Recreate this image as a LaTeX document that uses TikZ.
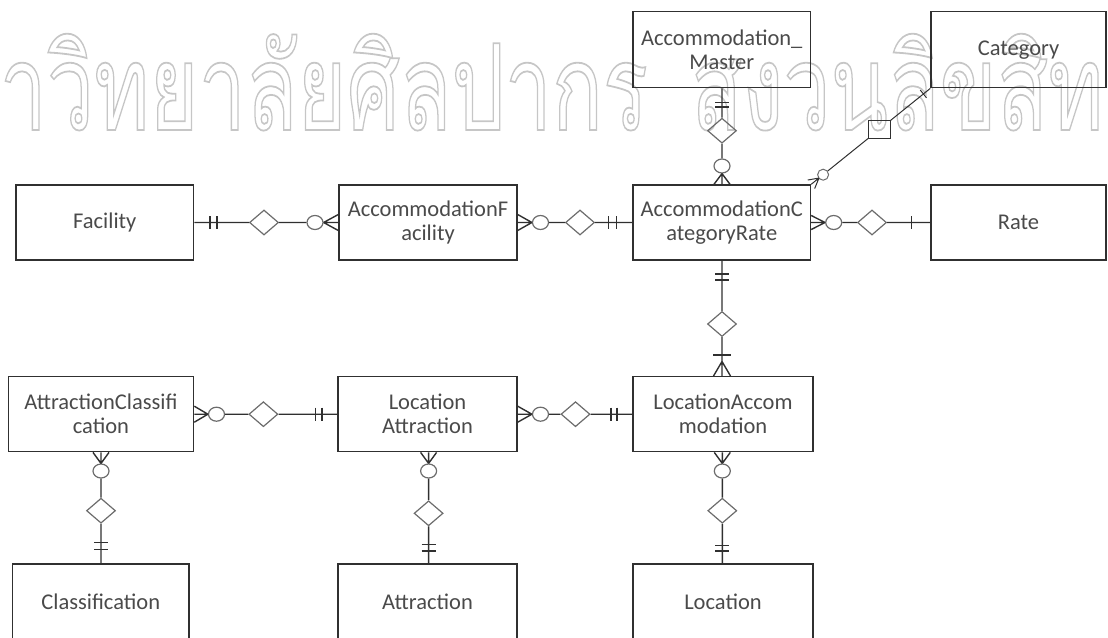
\documentclass[tikz,border=0pt]{standalone}
\usepackage{fontspec}
\setmainfont{Carlito}
\newfontfamily\thaifont[Script=Thai]{Loma}
\usetikzlibrary{shapes.geometric,calc}

\definecolor{linec}{HTML}{303030}
\definecolor{textc}{HTML}{4A4A4A}
\definecolor{symc}{HTML}{6C6C6C}
\definecolor{markc}{HTML}{C6C6C6}

% hollow (stroked-only) lettering through the PDF text render mode
\newcommand\hollowtext[1]{\special{pdf:literal direct 1 Tr 1.8 w}#1\special{pdf:literal direct 0 Tr}}

\begin{document}
\begin{tikzpicture}[x=1pt,y=-1pt,
  entity/.style={draw=linec, line width=1.4pt, text=textc,
    font=\fontsize{22.5}{24}\selectfont, align=center, inner sep=0pt,
    minimum height=75pt},
  rel/.style={diamond, draw=symc, line width=1.2pt, minimum width=29pt,
    minimum height=25pt, inner sep=0pt},
  opt/.style={ellipse, draw=symc, line width=1.2pt, minimum width=16pt,
    minimum height=14pt, inner sep=0pt},
  link/.style={draw=linec, line width=1.4pt},
  thinlink/.style={draw=linec, line width=1pt},
  wmtext/.style={inner sep=0pt, text=markc,
    font=\thaifont\fontsize{120}{120}\selectfont},
]
\useasboundingbox (0,0) rectangle (1108,637);
\clip (0,0) rectangle (1108,637);

% outlined watermark lettering
\begin{scope}
  \node[wmtext, anchor=base east] (wmA) at (648,130)
    {\scalebox{0.7}[1]{\hollowtext{มหาวิทยาลัยศิลปากร}}};
  \node[wmtext, anchor=base west] (wmB) at (691,130)
    {\scalebox{0.7}[1]{\hollowtext{สงวนลิขสิทธิ์}}};
\end{scope}

% entities
\node[entity, minimum width=177.5pt, minimum height=76pt] (am) at (721.75,49.7) {Accommodation\_\\Master};
\node[entity, minimum width=175pt, minimum height=76pt] (cat) at (1018.5,49.7) {Category};
\node[entity, minimum width=177.6pt] (fac) at (104.8,222.5) {Facility};
\node[entity, minimum width=178pt] (accfac) at (428,222.5) {AccommodationF\\acility};
\node[entity, minimum width=177.5pt] (acr) at (721.75,222.5) {AccommodationC\\ategoryRate};
\node[entity, minimum width=175pt] (rate) at (1018.5,222.5) {Rate};
\node[entity, minimum width=185.4pt] (attcls) at (100.9,414.2) {AttractionClassifi\\cation};
\node[entity, minimum width=179pt] (locatt) at (427.5,414.2) {Location\\Attraction};
\node[entity, minimum width=180pt] (locacc) at (723,414.2) {LocationAccom\\modation};
\node[entity, minimum width=176.5pt] (cls) at (100.75,601.5) {Classification};
\node[entity, minimum width=179pt] (att) at (427.5,601.5) {Attraction};
\node[entity, minimum width=180pt] (loc) at (723,601.5) {Location};

% Facility -- AccommodationFacility
\node[rel] (r1) at (264,222.5) {};
\node[opt] (c1) at (315,222.5) {};
\draw[link] (fac.east) -- (r1.west) (r1.east) -- (c1.west)
  (c1.east) -- (c1.east -| accfac.west)
  (c1.east) -- ($(c1.east -| accfac.west)+(0,-8)$)
  (c1.east) -- ($(c1.east -| accfac.west)+(0,8)$);
\draw[link] ($(fac.east)+(15.5,-6.5)$) -- ++(0,13)
  ($(fac.east)+(22.5,-6.5)$) -- ++(0,13);

% AccommodationFacility -- AccommodationCategoryRate
\node[opt] (c2) at (540.5,222.5) {};
\node[rel] (r2) at (580,222.5) {};
\draw[link] (c2.west) -- (c2.west -| accfac.east)
  (c2.west) -- ($(c2.west -| accfac.east)+(0,-8)$)
  (c2.west) -- ($(c2.west -| accfac.east)+(0,8)$)
  (c2.east) -- (r2.west) (r2.east) -- (acr.west);
\draw[link] ($(acr.west)+(-24,-6.5)$) -- ++(0,13)
  ($(acr.west)+(-16,-6.5)$) -- ++(0,13);

% AccommodationCategoryRate -- Rate
\node[opt] (c3) at (833.7,222.5) {};
\node[rel] (r3) at (872,222.5) {};
\draw[link] (c3.west) -- (c3.west -| acr.east)
  (c3.west) -- ($(c3.west -| acr.east)+(0,-7)$)
  (c3.west) -- ($(c3.west -| acr.east)+(0,7)$)
  (c3.east) -- (r3.west) (r3.east) -- (rate.west);
\draw[link] ($(rate.west)+(-18.7,-6.5)$) -- ++(0,13);

% AttractionClassification -- LocationAttraction
\node[opt] (c4) at (216.5,414.2) {};
\node[rel] (r4) at (263.4,414.2) {};
\draw[link] (c4.west) -- (c4.west -| attcls.east)
  (c4.west) -- ($(c4.west -| attcls.east)+(0,-8)$)
  (c4.west) -- ($(c4.west -| attcls.east)+(0,8)$)
  (c4.east) -- (r4.west) (r4.east) -- (locatt.west);
\draw[link] ($(locatt.west)+(-22,-6.5)$) -- ++(0,13)
  ($(locatt.west)+(-15.5,-6.5)$) -- ++(0,13);

% LocationAttraction -- LocationAccommodation
\node[opt] (c5) at (540.5,414.2) {};
\node[rel] (r5) at (575.5,414.2) {};
\draw[link] (c5.west) -- (c5.west -| locatt.east)
  (c5.west) -- ($(c5.west -| locatt.east)+(0,-8)$)
  (c5.west) -- ($(c5.west -| locatt.east)+(0,8)$)
  (c5.east) -- (r5.west) (r5.east) -- (locacc.west);
\draw[link] ($(locacc.west)+(-21.4,-6.5)$) -- ++(0,13)
  ($(locacc.west)+(-15.4,-6.5)$) -- ++(0,13);

% Accommodation_Master -- AccommodationCategoryRate
\node[rel] (r6) at (722,130.7) {};
\node[opt] (c6) at (722,166) {};
\draw[link] (r6 |- am.south) -- (r6.north) (r6.south) -- (c6.north)
  (c6.south) -- (c6 |- acr.north)
  (c6.south) -- ($(c6 |- acr.north)+(-8,0)$)
  (c6.south) -- ($(c6 |- acr.north)+(8,0)$);
\draw[link] ($(r6 |- am.south)+(-7,14)$) -- ++(14,0)
  ($(r6 |- am.south)+(-7,18.5)$) -- ++(14,0);

% AccommodationCategoryRate -- LocationAccommodation
\node[rel] (r7) at (722,324) {};
\coordinate (f7) at ($(r7 |- locacc.north)+(0,-14.5)$);
\draw[link] (r7 |- acr.south) -- (r7.north) (r7.south) -- (r7 |- locacc.north)
  (f7) -- ($(r7 |- locacc.north)+(-8.5,0)$)
  (f7) -- ($(r7 |- locacc.north)+(8.5,0)$);
\draw[link] ($(r7 |- acr.south)+(-7,13.3)$) -- ++(14,0)
  ($(r7 |- acr.south)+(-7,19.3)$) -- ++(14,0)
  ($(r7 |- locacc.north)+(-9,-21)$) -- ++(18,0);

% AttractionClassification -- Classification
\node[opt] (c8) at (101,471) {};
\node[rel] (r8) at (101,510.7) {};
\draw[link] (c8.north) -- (c8 |- attcls.south)
  (c8.north) -- ($(c8 |- attcls.south)+(-8,0)$)
  (c8.north) -- ($(c8 |- attcls.south)+(8,0)$)
  (c8.south) -- (r8.north) (r8.south) -- (r8 |- cls.north);
\draw[link] ($(r8 |- cls.north)+(-7,-20.7)$) -- ++(14,0)
  ($(r8 |- cls.north)+(-7,-13.8)$) -- ++(14,0);

% LocationAttraction -- Attraction
\node[opt] (c9) at (428.6,471) {};
\node[rel] (r9) at (428.6,513.3) {};
\draw[link] (c9.north) -- (c9 |- locatt.south)
  (c9.north) -- ($(c9 |- locatt.south)+(-8,0)$)
  (c9.north) -- ($(c9 |- locatt.south)+(8,0)$)
  (c9.south) -- (r9.north) (r9.south) -- (r9 |- att.north);
\draw[link] ($(r9 |- att.north)+(-7,-19)$) -- ++(14,0)
  ($(r9 |- att.north)+(-7,-12.3)$) -- ++(14,0);

% LocationAccommodation -- Location
\node[opt] (c10) at (722.3,471) {};
\node[rel] (r10) at (722.3,510.7) {};
\draw[link] (c10.north) -- (c10 |- locacc.south)
  (c10.north) -- ($(c10 |- locacc.south)+(-8,0)$)
  (c10.north) -- ($(c10 |- locacc.south)+(8,0)$)
  (c10.south) -- (r10.north) (r10.south) -- (r10 |- loc.north);
\draw[link] ($(r10 |- loc.north)+(-7,-18)$) -- ++(14,0)
  ($(r10 |- loc.north)+(-7,-12.3)$) -- ++(14,0);

% Category -- AccommodationCategoryRate (diagonal)
\coordinate (cA) at (cat.south west);
\coordinate (cB) at (acr.north east);
\node[draw=linec, line width=1.1pt, minimum width=21.5pt, minimum height=17.5pt,
  inner sep=0pt] (sq) at ($(cA)!0.427!(cB)$) {};
\node[opt, minimum width=11pt, minimum height=11pt, line width=1pt] (c11)
  at ($(cA)!0.9!(cB)$) {};
\coordinate (f11) at ($(cA)!0.935!(cB)$);
\coordinate (t11) at ($(cA)!0.058!(cB)$);
\draw[thinlink] (cA) -- (sq) (sq) -- (c11) (c11) -- (cB)
  (f11) -- ($(cB)!5.5pt!90:(cA)$) (f11) -- ($(cB)!5.5pt!-90:(cA)$)
  ($(t11)!5pt!90:(cB)$) -- ($(t11)!5pt!-90:(cB)$);
\end{tikzpicture}
\end{document}
